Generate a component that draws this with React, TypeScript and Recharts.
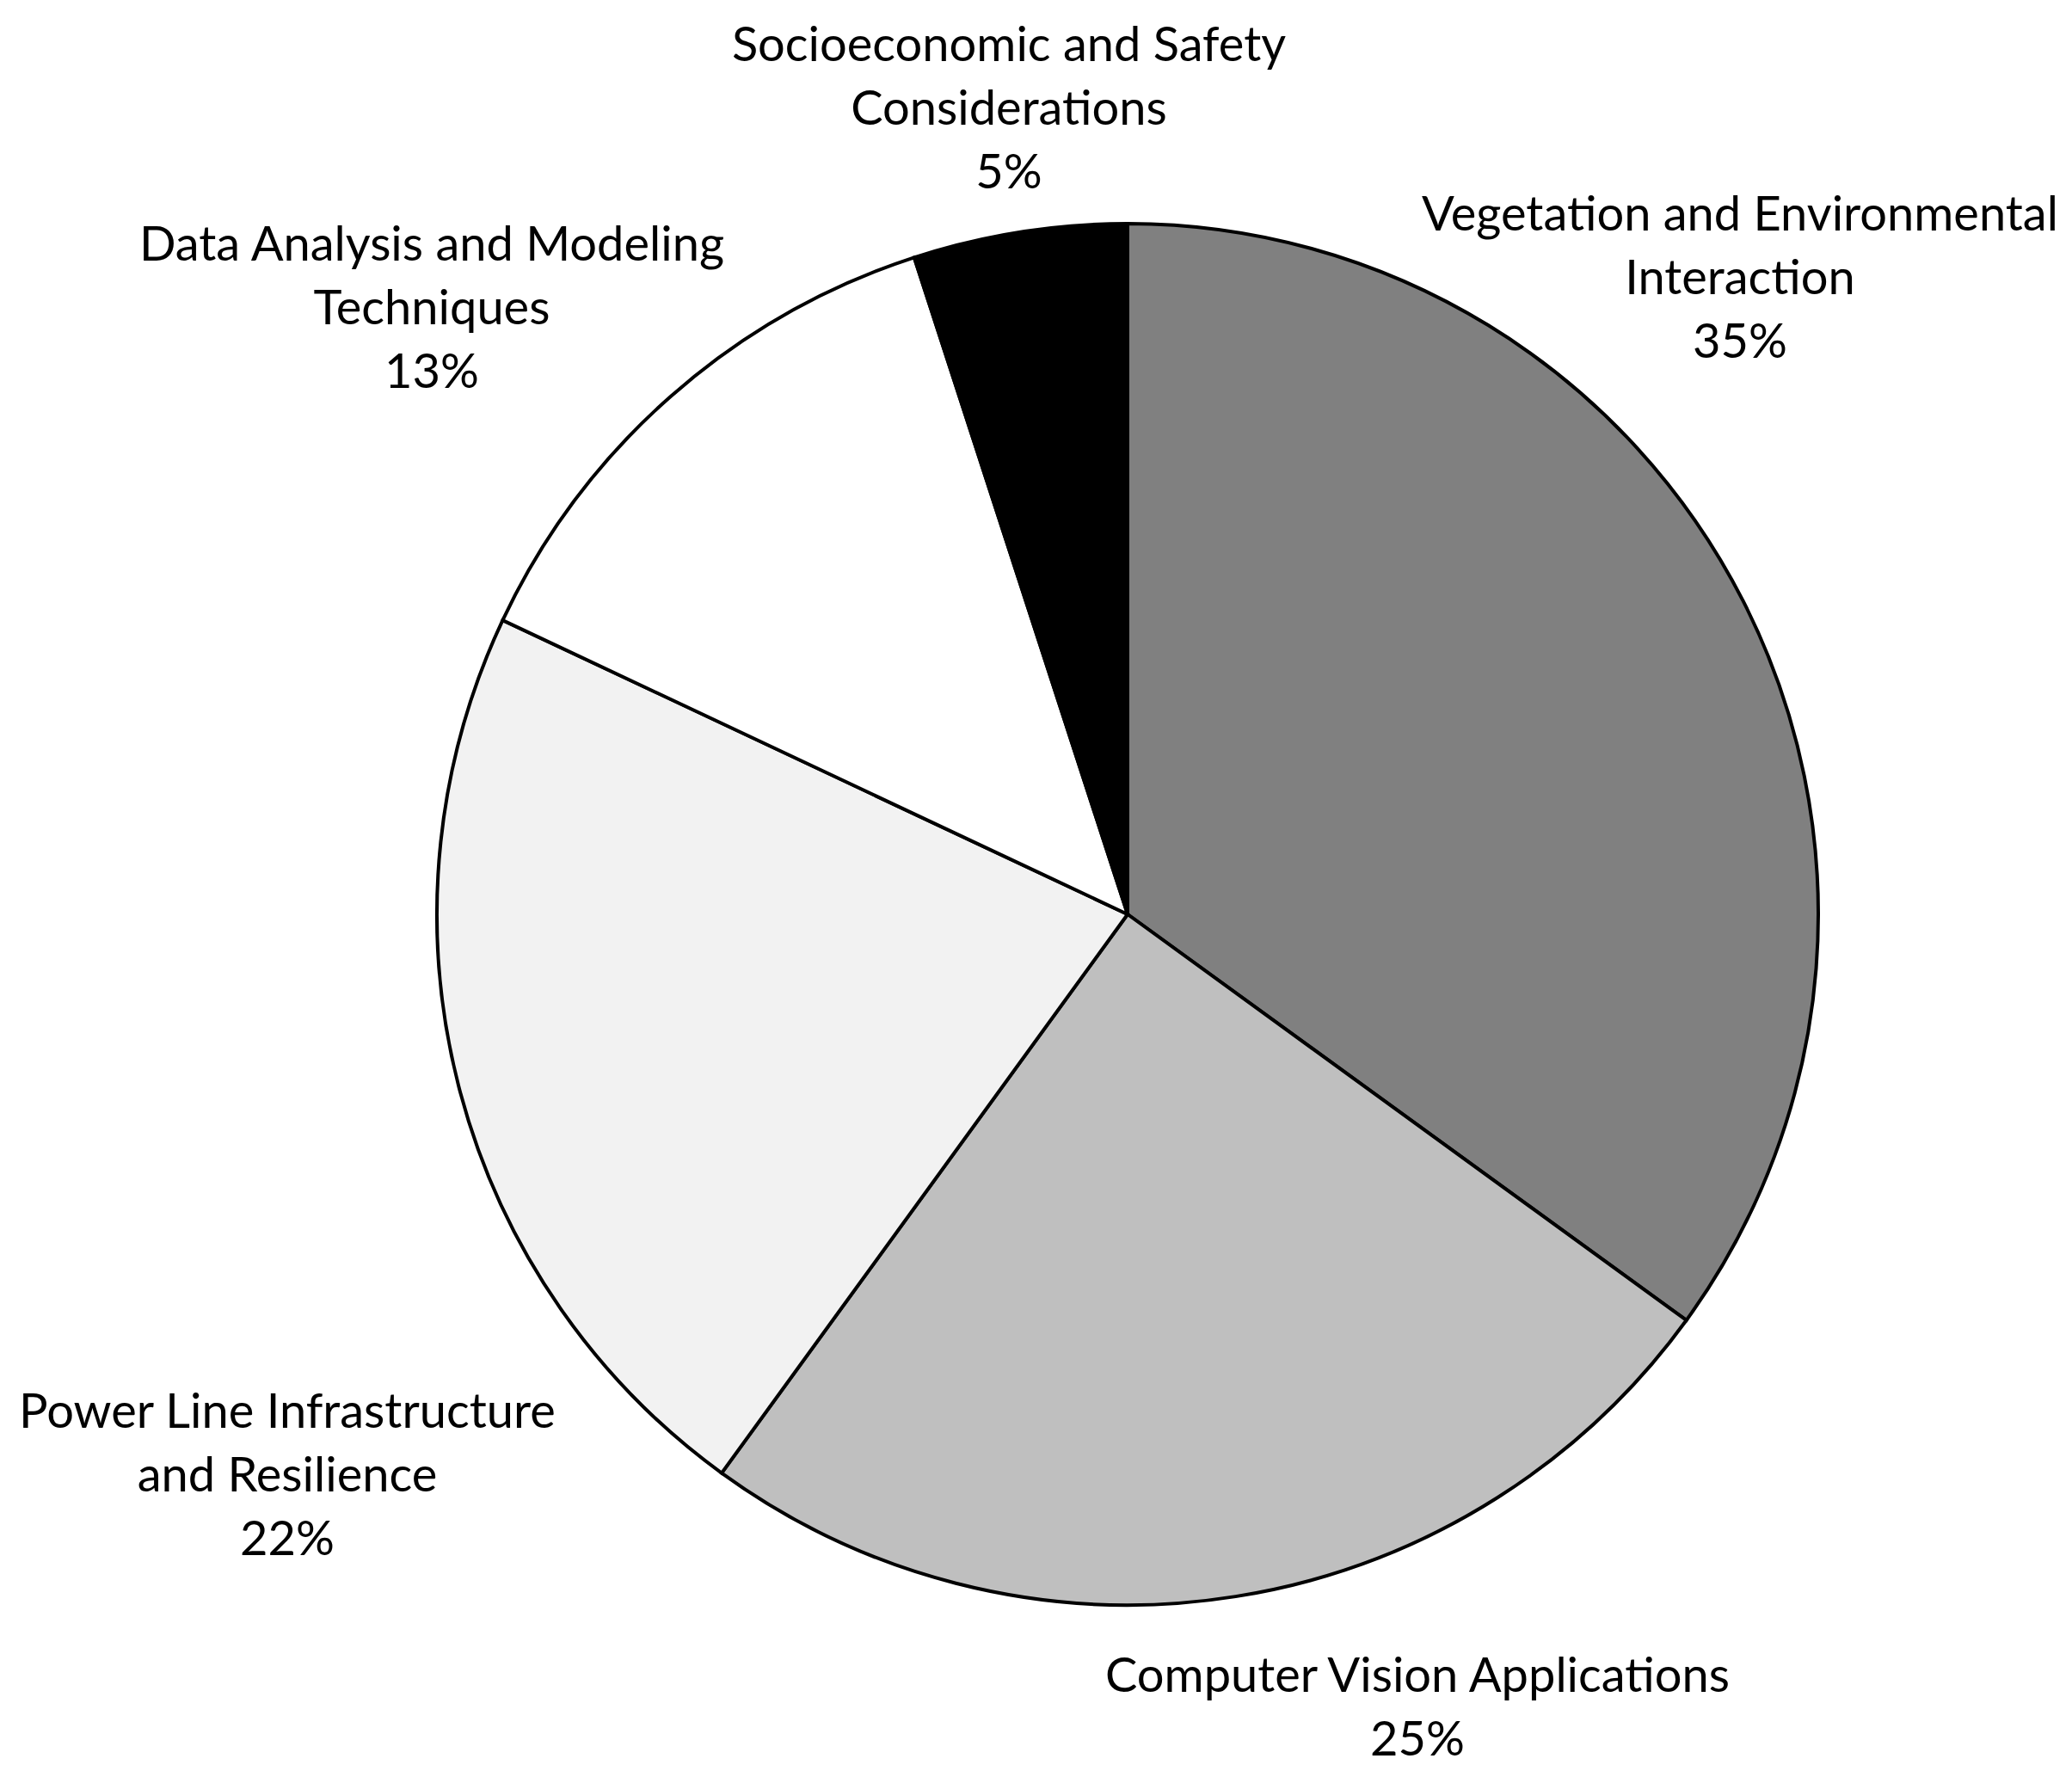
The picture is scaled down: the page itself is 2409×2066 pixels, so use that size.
import React from "react";
import { Cell, Pie, PieChart } from "recharts";

const categories = [
  "Vegetation and Environmental Interaction",
  "Computer Vision Applications",
  "Power Line Infrastructure and Resilience",
  "Data Analysis and Modeling Techniques",
  "Socioeconomic and Safety Considerations",
];
const shares = [35, 25, 22, 13, 5];
const labelLines = [
  ["Vegetation and Environmental", "Interaction"],
  ["Computer Vision Applications"],
  ["Power Line Infrastructure", "and Resilience"],
  ["Data Analysis and Modeling", "Techniques"],
  ["Socioeconomic and Safety", "Considerations"],
];

const fills = ["#808080", "#bfbfbf", "#f2f2f2", "#ffffff", "#000000"];
// first-line centre of each label, relative to the pie centre
const labelOffsets = [
  [712, -817],
  [337, 882],
  [-977, 575],
  [-809, -782],
  [-138, -1014],
];
const LINE_H = 74;
const FONT = "Lato, 'Noto Sans', sans-serif";

const data = categories.map((name, i) => ({
  name,
  value: shares[i],
}));

const renderLabel = (props: any) => {
  const { cx, cy, index, value } = props;
  const [dx, dy] = labelOffsets[index];
  const lines = [...labelLines[index], `${value}%`];
  return (
    <text
      key={`lbl-${index}`}
      x={cx + dx}
      y={cy + dy}
      textAnchor="middle"
      dominantBaseline="central"
      fill="#000"
      fontFamily={FONT}
      fontSize={56}
    >
      {lines.map((l, j) => (
        <tspan key={j} x={cx + dx} y={cy + dy + j * LINE_H}>
          {l}
        </tspan>
      ))}
    </text>
  );
};

export default function App() {
  return (
    <div style={{ position: "absolute", left: 0, top: 0, background: "#fff" }}>
      <style>{`.recharts-pie-sectors { filter: drop-shadow(0px 0px 10px rgba(0,0,0,0.35)); }`}</style>
      <PieChart width={2409} height={2066}>
        <Pie
          data={data}
          dataKey="value"
          nameKey="name"
          cx={1306}
          cy={1058}
          outerRadius={803}
          startAngle={90}
          endAngle={-270}
          stroke="#000"
          strokeWidth={4}
          label={renderLabel}
          labelLine={false}
          isAnimationActive={false}
        >
          {data.map((d, i) => (
            <Cell key={d.name} fill={fills[i]} />
          ))}
        </Pie>
      </PieChart>
    </div>
  );
}
